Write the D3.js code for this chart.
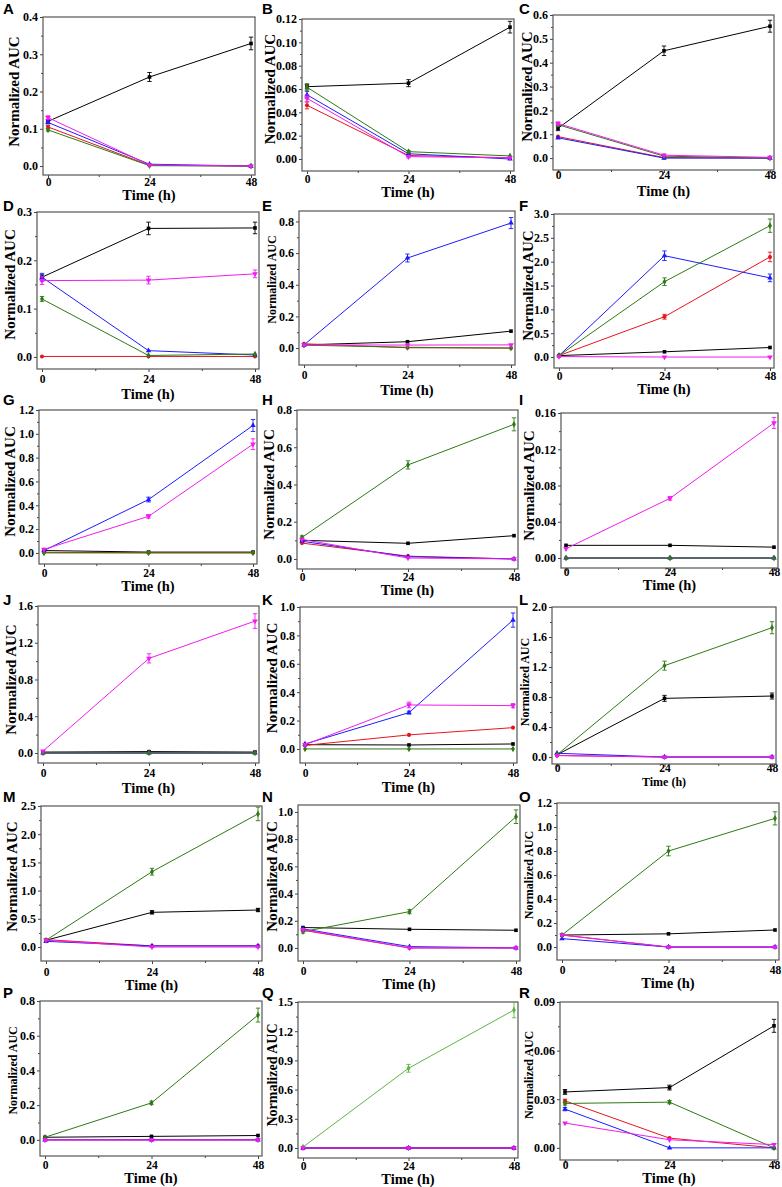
<!DOCTYPE html>
<html lang="en">
<head>
<meta charset="UTF-8">
<title>Normalized AUC vs time</title>
<style>
  body { margin: 0; background: #fff; }
  svg { display: block; }
  .tick text { font: bold 12px "Liberation Serif", "Times New Roman", serif; fill: #000; }
  .tick line { stroke: #444; }
  .axis-title { font-family: "Liberation Serif", "Times New Roman", serif; font-weight: bold; fill: #000; }
  .panel-label { font: bold 15px "Liberation Sans", Arial, sans-serif; fill: #000; }
  .frame { fill: none; stroke: #555; stroke-width: 1.2; }
</style>
</head>
<body>
<div id="chart"></div>
<script src="https://d3js.org/d3.v7.min.js"></script>
<script>
// ---- data ----
const times = [0, 24, 48];
const panelNames = ["A","B","C","D","E","F","G","H","I","J","K","L","M","N","O","P","Q","R"];
const yTicks = [
  [0, 0.1, 0.2, 0.3, 0.4],
  [0, 0.02, 0.04, 0.06, 0.08, 0.10, 0.12],
  [0, 0.1, 0.2, 0.3, 0.4, 0.5, 0.6],
  [0, 0.1, 0.2, 0.3],
  [0, 0.2, 0.4, 0.6, 0.8],
  [0, 0.5, 1.0, 1.5, 2.0, 2.5, 3.0],
  [0, 0.2, 0.4, 0.6, 0.8, 1.0, 1.2],
  [0, 0.2, 0.4, 0.6, 0.8],
  [0, 0.04, 0.08, 0.12, 0.16],
  [0, 0.4, 0.8, 1.2, 1.6],
  [0, 0.2, 0.4, 0.6, 0.8, 1.0],
  [0, 0.4, 0.8, 1.2, 1.6, 2.0],
  [0, 0.5, 1.0, 1.5, 2.0, 2.5],
  [0, 0.2, 0.4, 0.6, 0.8, 1.0],
  [0, 0.2, 0.4, 0.6, 0.8, 1.0, 1.2],
  [0, 0.2, 0.4, 0.6, 0.8],
  [0, 0.3, 0.6, 0.9, 1.2, 1.5],
  [0, 0.03, 0.06, 0.09]
];
const yDecimals = [1,2,1,1,1,1,1,1,2,1,1,1,1,1,1,1,1,2];

const blackVals = [
  [0.12, 0.239, 0.329], [0.062, 0.065, 0.113], [0.125, 0.45, 0.553],
  [0.165, 0.266, 0.267], [0.02, 0.04, 0.107], [0.03, 0.11, 0.2],
  [0.02, 0.007, 0.007], [0.1, 0.084, 0.125], [0.014, 0.014, 0.012],
  [0.01, 0.015, 0.01], [0.03, 0.028, 0.035], [0.03, 0.782, 0.813],
  [0.12, 0.615, 0.656], [0.15, 0.137, 0.13], [0.1, 0.11, 0.142],
  [0.015, 0.02, 0.025], [0, 0, 0], [0.0345, 0.0372, 0.0753]
];
const blackErr = [
  [0.005, 0.012, 0.017], [0.002, 0.003, 0.005], [0.01, 0.02, 0.025],
  [0.005, 0.013, 0.012], [0.002, 0.003, 0.003], [0.005, 0.02, 0.015],
  [0.002, 0.002, 0.002], [0.004, 0.003, 0.004], [0.0005, 0.0005, 0.0005],
  [0.005, 0.01, 0.01], [0.003, 0.003, 0.003], [0.005, 0.04, 0.04],
  [0.01, 0.03, 0.03], [0.005, 0.005, 0.005], [0.004, 0.004, 0.004],
  [0.003, 0.003, 0.003], [0, 0, 0], [0.0015, 0.0015, 0.004]
];
const redVals = [
  [0.105, 0.002, 0], [0.046, 0.003, 0.001], [0.09, 0.002, 0],
  [0.001, 0.001, 0.001], [0.027, 0.002, 0], [0.03, 0.845, 2.10],
  [0.005, 0.002, 0.002], [0.085, 0.015, 0], [0, 0, 0],
  [0, 0, 0], [0.025, 0.099, 0.15], [0.02, 0, 0],
  [0.13, 0.02, 0.02], [0.13, 0, 0], [0.1, 0, 0],
  [0, 0, 0], [0, 0, 0], [0.029, 0.006, 0]
];
const redErr = [
  [0.004, 0, 0], [0.003, 0.001, 0], [0.004, 0, 0],
  [0, 0, 0], [0.003, 0, 0], [0.01, 0.05, 0.1],
  [0, 0, 0], [0.004, 0, 0], [0, 0, 0],
  [0, 0, 0], [0.003, 0.004, 0.004], [0.003, 0, 0],
  [0.01, 0.005, 0.005], [0.005, 0, 0], [0.004, 0, 0],
  [0, 0, 0], [0, 0, 0], [0.001, 0.0005, 0]
];
const blueVals = [
  [0.117, 0.005, 0], [0.055, 0.0045, 0], [0.085, 0, 0],
  [0.165, 0.013, 0.004], [0.02, 0.569, 0.79], [0.03, 2.125, 1.66],
  [0.02, 0.448, 1.07], [0.095, 0.012, 0], [0, 0, 0],
  [0, 0, 0], [0.035, 0.256, 0.908], [0.05, 0, 0],
  [0.1, 0.02, 0.02], [0.14, 0.01, 0], [0.07, 0, 0],
  [0, 0, 0], [0, 0, 0], [0.0239, 0, 0]
];
const blueErr = [
  [0.004, 0, 0], [0.003, 0.001, 0], [0.004, 0, 0],
  [0.008, 0.001, 0], [0.003, 0.025, 0.035], [0.01, 0.1, 0.08],
  [0.005, 0.02, 0.05], [0.004, 0, 0], [0, 0, 0],
  [0, 0, 0], [0.005, 0.01, 0.05], [0.004, 0, 0],
  [0.01, 0.005, 0.005], [0.005, 0, 0], [0.004, 0, 0],
  [0, 0, 0], [0, 0, 0], [0.001, 0, 0]
];
const magentaVals = [
  [0.13, 0.003, 0], [0.052, 0.002, 0.001], [0.145, 0.012, 0.003],
  [0.158, 0.159, 0.172], [0.02, 0.019, 0.02], [0.01, 0, 0],
  [0.03, 0.307, 0.913], [0.105, 0.005, 0], [0.0103, 0.0659, 0.149],
  [0.02, 1.03, 1.436], [0.03, 0.31, 0.305], [0.02, 0, 0],
  [0.12, 0, 0], [0.135, 0, 0], [0.1, 0, 0],
  [0, 0, 0], [0, 0, 0], [0.0153, 0.005, 0.002]
];
const magentaErr = [
  [0.005, 0, 0], [0.003, 0.001, 0], [0.006, 0.001, 0],
  [0.008, 0.008, 0.008], [0.002, 0.002, 0.002], [0.005, 0, 0],
  [0.005, 0.015, 0.045], [0.004, 0, 0], [0.001, 0.002, 0.006],
  [0.01, 0.05, 0.08], [0.005, 0.02, 0.015], [0.003, 0, 0],
  [0.01, 0.005, 0.005], [0.005, 0, 0], [0.004, 0, 0],
  [0, 0, 0], [0, 0, 0], [0.0005, 0.0005, 0.0005]
];
const greenVals = [
  [0.097, 0.001, 0], [0.0615, 0.0063, 0.0026], [0.14, 0.008, 0],
  [0.12, 0.003, 0.006], [0.018, 0.005, 0], [0.03, 1.58, 2.755],
  [0, 0, 0], [0.116, 0.505, 0.723], [0, 0, 0],
  [0, 0, 0], [0, 0, 0], [0.03, 1.218, 1.724],
  [0.12, 1.335, 2.36], [0.12, 0.267, 0.965], [0.1, 0.8, 1.072],
  [0.015, 0.213, 0.719], [0.01, 0.819, 1.418], [0.0274, 0.0282, 0]
];
const greenErr = [
  [0.003, 0, 0], [0.003, 0.001, 0.0005], [0.005, 0.001, 0],
  [0.005, 0, 0], [0.002, 0, 0], [0.01, 0.08, 0.14],
  [0, 0, 0], [0.008, 0.022, 0.035], [0, 0, 0],
  [0, 0, 0], [0, 0, 0], [0.005, 0.06, 0.08],
  [0.01, 0.06, 0.12], [0.01, 0.015, 0.05], [0.005, 0.04, 0.055],
  [0.003, 0.01, 0.04], [0.005, 0.04, 0.08], [0.001, 0.001, 0]
];

// ---- layout (pixels) ----
const frames = [
  [43,17,255,175], [302,19,514,171], [553,15,774,170],
  [37,212,259,369], [299,211,515,365], [554,214,774,368],
  [39,410,257,564], [297,410,518,569], [561,413,778,568],
  [38,606,259,763], [300,607,517,763], [552,607,776,764],
  [41,806,262,961], [298,805,520,961], [557,803,779,960],
  [40,1001,262,1156], [298,1002,518,1158], [560,1002,778,1160]
];
const yDomains = [
  [-0.024,0.4], [-0.0103,0.12], [-0.05,0.6],
  [-0.025,0.3], [-0.107,0.866], [-0.23,3.0],
  [-0.093,1.2], [-0.054,0.8], [-0.011,0.16],
  [-0.109,1.6], [-0.099,1.0], [-0.093,2.0],
  [-0.248,2.5], [-0.096,1.051], [-0.108,1.2],
  [-0.093,0.8], [-0.103,1.5], [-0.0075,0.09]
];
const xTickY = [188,185,179,383,379,382,578,583,581,777,777,777,977,977,974,1170,1172,1172];
const xTitleY = [200,197,196,399,395,394,591,595,590,793,792,786,990,989,988,1183,1184,1183];
const xTitleSize = [14.5,14.5,14.5,14.5,14.5,14.5,14.5,14.5,14.5,14.5,14.5,12,14.5,14.5,14.5,14.5,14.5,14.5];
const yTitleX = [14,270,527,10,272,528,10,269,529,11,272,525,12,272,529,13,272,529];
const yTitleSize = [15,15,15,15,12,15,15,15,15,15,15,12,15,15,12,12,14,12];
const labelX = [3, 262, 519];
const labelY = [14, 211, 405, 605, 802, 998];

const series = [
  { vals: blackVals, err: blackErr, color: "#000000", symbol: d3.symbolSquare },
  { vals: redVals, err: redErr, color: "#e8141c", symbol: d3.symbolCircle },
  { vals: blueVals, err: blueErr, color: "#1c1cff", symbol: d3.symbolTriangle },
  { vals: greenVals, err: greenErr, color: "#2f7a12", symbol: d3.symbolDiamond },
  { vals: magentaVals, err: magentaErr, color: "#f01cf0", symbol: "down" }
];
const lightGreenPanel = 16; // panel Q uses a lighter green

const svg = d3.select("#chart").append("svg")
  .attr("width", 782).attr("height", 1187);

const downTri = d3.symbol().type(d3.symbolTriangle).size(14);

panelNames.forEach((name, i) => {
  const [l, t, r, b] = frames[i];
  const x = d3.scaleLinear().domain([0, 48]).range([l + 5, r - 4]);
  const y = d3.scaleLinear().domain(yDomains[i]).range([b, t]);
  const g = svg.append("g");

  // minor ticks
  const ticks = yTicks[i];
  const yMinor = d3.pairs(ticks).map(([a, c]) => (a + c) / 2);
  g.append("g").attr("transform", `translate(0,${b})`)
    .call(d3.axisBottom(x).tickValues([12, 36]).tickSize(2).tickFormat(""))
    .call(a => a.select(".domain").remove());
  g.append("g").attr("transform", `translate(${l},0)`)
    .call(d3.axisLeft(y).tickValues(yMinor).tickSize(2).tickFormat(""))
    .call(a => a.select(".domain").remove());

  // major ticks
  const tickBase = Math.min(xTickY[i], xTitleY[i] - 14);
  const xa = g.append("g").attr("transform", `translate(0,${b})`)
    .call(d3.axisBottom(x).tickValues(times).tickSize(3).tickPadding(2))
    .call(a => a.select(".domain").remove());
  xa.selectAll("text").attr("dy", null).attr("y", tickBase - b).style("font-size", "11.5px");
  g.append("g").attr("transform", `translate(${l},0)`)
    .call(d3.axisLeft(y).tickValues(ticks).tickSize(3).tickPadding(2)
      .tickFormat(d3.format(`.${yDecimals[i]}f`)))
    .call(a => a.select(".domain").remove());

  g.append("rect").attr("class", "frame")
    .attr("x", l).attr("y", t).attr("width", r - l).attr("height", b - t);

  // series
  series.forEach(s => {
    const color = (s.symbol === d3.symbolDiamond && i === lightGreenPanel) ? "#5cb545" : s.color;
    const pts = times.map((tm, k) => ({ t: tm, v: s.vals[i][k], e: s.err[i][k] }));
    g.append("path").datum(pts)
      .attr("fill", "none").attr("stroke", color).attr("stroke-width", 1)
      .attr("d", d3.line().x(d => x(d.t)).y(d => y(d.v)));
    pts.filter(d => d.e > 0).forEach(d => {
      const y1 = y(d.v + d.e), y2 = y(d.v - d.e);
      if (y2 - y1 < 2) return;
      g.append("path")
        .attr("stroke", color).attr("stroke-width", 0.9).attr("fill", "none")
        .attr("d", `M${x(d.t)},${y1}V${y2}M${x(d.t) - 2.2},${y1}H${x(d.t) + 2.2}M${x(d.t) - 2.2},${y2}H${x(d.t) + 2.2}`);
    });
    g.selectAll(null).data(pts).join("path")
      .attr("fill", color)
      .attr("transform", d => s.symbol === "down"
        ? `translate(${x(d.t)},${y(d.v)}) rotate(180)`
        : `translate(${x(d.t)},${y(d.v)})`)
      .attr("d", s.symbol === "down" ? downTri() : d3.symbol().type(s.symbol).size(13)());
  });

  // titles
  g.append("text").attr("class", "axis-title")
    .attr("x", (l + r) / 2).attr("y", xTitleY[i])
    .attr("text-anchor", "middle").style("font-size", xTitleSize[i] + "px")
    .text("Time (h)");
  const yc = (y(0) + t) / 2;
  g.append("text").attr("class", "axis-title")
    .attr("transform", `translate(${yTitleX[i]},${yc}) rotate(-90)`)
    .attr("text-anchor", "middle").attr("dominant-baseline", "central")
    .style("font-size", yTitleSize[i] + "px")
    .text("Normalized AUC");

  svg.append("text").attr("class", "panel-label")
    .attr("x", labelX[i % 3]).attr("y", labelY[Math.floor(i / 3)])
    .text(name);
});
</script>
</body>
</html>
